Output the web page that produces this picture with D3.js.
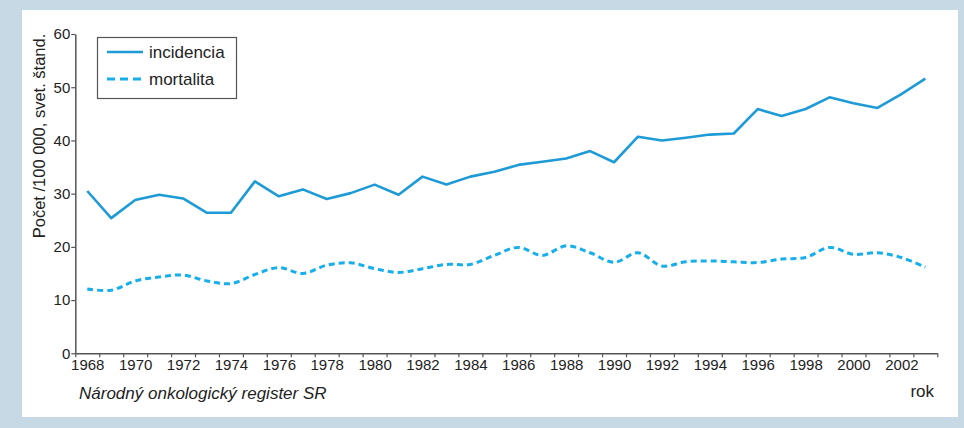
<!DOCTYPE html>
<html>
<head>
<meta charset="utf-8">
<script src="https://cdn.jsdelivr.net/npm/d3@7"></script>
<style>
  html, body { margin: 0; padding: 0; background: #c6d9e4; }
  svg { display: block; }
</style>
</head>
<body>
<svg id="chart" width="964" height="428"></svg>
<script>
// ----------- DATA ------------
const years = d3.range(1968, 2004);
const incidencia = [
  30.5, 25.4, 28.8, 29.8, 29.1, 26.4, 26.4, 32.3, 29.5, 30.8,
  29.0, 30.1, 31.7, 29.8, 33.2, 31.7, 33.2, 34.1, 35.4, 36.0,
  36.6, 38.0, 35.9, 40.7, 40.0, 40.5, 41.1, 41.3, 45.9, 44.6,
  45.9, 48.1, 47.0, 46.1, 48.7, 51.6
];
const mortalita = [
  12.1, 11.85, 13.6, 14.35, 14.7, 13.6, 13.1, 14.8, 16.1, 15.0,
  16.55, 17.0, 15.9, 15.2, 15.9, 16.7, 16.7, 18.4, 19.9, 18.4,
  20.2, 18.9, 17.1, 18.9, 16.4, 17.2, 17.35, 17.2, 17.05, 17.7,
  18.0, 19.9, 18.6, 18.9, 18.0, 16.2
];
const yTicks = [0, 10, 20, 30, 40, 50, 60];
const xLabels = d3.range(1968, 2004, 2);
const seriesNames = ["incidencia", "mortalita"];

// ----------- SETUP ------------
const svg = d3.select("#chart");
const tickFont = "'Liberation Sans Narrow', 'Arial Narrow', 'Liberation Sans', Arial, sans-serif";
const textFont = "'Liberation Sans', Arial, Helvetica, sans-serif";
const axisColor = "#555";
const solidColor = "#1e9bd6";
const dashColor = "#17aeec";

// white panel
svg.append("rect")
  .attr("x", 22).attr("y", 10)
  .attr("width", 936).attr("height", 407)
  .attr("fill", "#ffffff");

const x = d3.scaleLinear().domain([1967.5, 2003.5]).range([75.3, 937.3]);
const y = d3.scaleLinear().domain([0, 60]).range([353.3, 34]);

// ----------- AXES ------------
const yAxis = svg.append("g")
  .attr("transform", "translate(75.3,0)")
  .call(d3.axisLeft(y).tickValues(yTicks).tickSize(4).tickPadding(1).tickSizeOuter(0));

// tick marks at year boundaries
const xTickAxis = svg.append("g")
  .attr("transform", "translate(0,353.3)")
  .call(d3.axisBottom(x)
    .tickValues(d3.range(1967.5, 2004, 1))
    .tickSize(4)
    .tickSizeOuter(0)
    .tickFormat(""));

// labels at every other year
const xLabelAxis = svg.append("g")
  .attr("transform", "translate(0,353.3)")
  .call(d3.axisBottom(x)
    .tickValues(xLabels)
    .tickSize(0)
    .tickPadding(6)
    .tickFormat(d3.format("d")));
xLabelAxis.select(".domain").remove();

[yAxis, xTickAxis, xLabelAxis].forEach(g => {
  g.selectAll(".domain").attr("stroke", axisColor).attr("stroke-width", 1.5);
  g.selectAll(".tick line").attr("stroke", axisColor).attr("stroke-width", 1.2);
  g.selectAll(".tick text")
    .attr("fill", "#222")
    .style("font-family", tickFont)
    .style("font-size", "15px");
});

// ----------- LINES ------------
const line = d3.line()
  .x((d, i) => x(years[i]))
  .y(d => y(d));

svg.append("path")
  .datum(incidencia)
  .attr("fill", "none")
  .attr("stroke", solidColor)
  .attr("stroke-width", 2.6)
  .attr("stroke-linejoin", "round")
  .attr("d", line);

svg.append("path")
  .datum(mortalita)
  .attr("fill", "none")
  .attr("stroke", dashColor)
  .attr("stroke-width", 3)
  .attr("stroke-dasharray", "6,4")
  .attr("d", line.curve(d3.curveCatmullRom.alpha(0.5)));

// ----------- LEGEND ------------
const legend = svg.append("g");
legend.append("rect")
  .attr("x", 97.5).attr("y", 37.5)
  .attr("width", 139).attr("height", 61)
  .attr("fill", "#fff")
  .attr("stroke", axisColor)
  .attr("stroke-width", 1.2);

seriesNames.forEach((name, i) => {
  const ly = 52 + i * 27;
  legend.append("line")
    .attr("x1", 107).attr("x2", 143)
    .attr("y1", ly).attr("y2", ly)
    .attr("stroke", i === 0 ? solidColor : dashColor)
    .attr("stroke-width", i === 0 ? 2.6 : 3)
    .attr("stroke-dasharray", i === 0 ? null : "8,5");
  legend.append("text")
    .attr("x", 149).attr("y", ly + 6)
    .attr("fill", "#222")
    .style("font-family", textFont)
    .style("font-size", "17px")
    .text(name);
});

// ----------- TEXTS ------------
svg.append("text")
  .attr("transform", "translate(45,136) rotate(-90)")
  .attr("text-anchor", "middle")
  .attr("fill", "#222")
  .style("font-family", textFont)
  .style("font-size", "16.5px")
  .text("Počet /100 000, svet. štand.");

svg.append("text")
  .attr("x", 79).attr("y", 399)
  .attr("fill", "#222")
  .style("font-family", textFont)
  .style("font-size", "17px")
  .style("font-style", "italic")
  .text("Národný onkologický register SR");

svg.append("text")
  .attr("x", 934).attr("y", 397)
  .attr("text-anchor", "end")
  .attr("fill", "#222")
  .style("font-family", textFont)
  .style("font-size", "17px")
  .text("rok");
</script>
</body>
</html>
